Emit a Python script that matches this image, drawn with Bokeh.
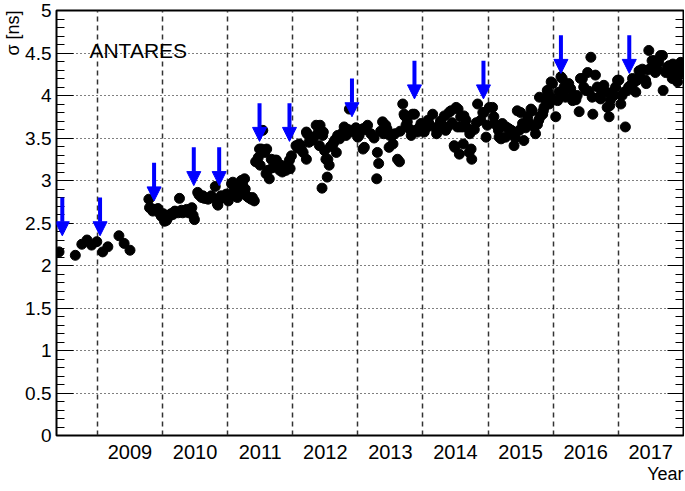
from bokeh.plotting import figure
from bokeh.models import (Range1d, FixedTicker, LinearAxis, Label, Arrow, Title,
                          NormalHead, ColumnDataSource)
from bokeh.embed import file_html
from bokeh.resources import INLINE

# ---------------- data ----------------
t_2008 = [2008.41, 2008.66, 2008.76, 2008.84, 2008.91, 2008.99, 2009.08, 2009.16, 2009.33, 2009.41, 2009.50]
s_2008 = [2.16, 2.12, 2.25, 2.30, 2.24, 2.28, 2.16, 2.22, 2.35, 2.26, 2.18]

t_2009 = [2009.79, 2009.80, 2009.83, 2009.85, 2009.88, 2009.93, 2009.96, 2009.98, 2010.01, 2010.03,
          2010.06, 2010.08, 2010.11, 2010.13, 2010.16, 2010.19, 2010.21, 2010.24, 2010.26, 2010.29,
          2010.31, 2010.34, 2010.37, 2010.40, 2010.42, 2010.45, 2010.47, 2010.49]
s_2009 = [2.78, 2.68, 2.67, 2.64, 2.66, 2.67, 2.61, 2.58, 2.61, 2.52,
          2.53, 2.56, 2.59, 2.61, 2.60, 2.64, 2.63, 2.62, 2.79, 2.65,
          2.62, 2.63, 2.66, 2.62, 2.65, 2.68, 2.59, 2.54]

t_2010 = [2010.54, 2010.56, 2010.60, 2010.62, 2010.64, 2010.67, 2010.70, 2010.73, 2010.75, 2010.81,
          2010.84, 2010.85, 2010.88, 2010.90, 2010.94, 2010.98, 2011.01, 2011.03, 2011.06, 2011.08,
          2011.10, 2011.13, 2011.15, 2011.18, 2011.21, 2011.23, 2011.26, 2011.27, 2011.29, 2011.32,
          2011.36, 2011.38, 2011.41]
s_2010 = [2.86, 2.83, 2.80, 2.82, 2.79, 2.79, 2.78, 2.80, 2.82, 2.93,
          2.73, 2.71, 2.79, 2.82, 2.80, 2.84, 2.76, 2.82, 2.96, 2.98,
          2.88, 2.94, 2.80, 2.86, 3.00, 2.95, 3.02, 2.90, 2.82, 2.80,
          2.78, 2.80, 2.76]

t_2011 = [2011.43, 2011.47, 2011.49, 2011.50, 2011.52, 2011.54, 2011.57, 2011.59, 2011.60, 2011.62,
          2011.64, 2011.67, 2011.69, 2011.72, 2011.75, 2011.78, 2011.80, 2011.82, 2011.84, 2011.87,
          2011.90, 2011.92, 2011.95, 2011.96, 2011.98]
s_2011 = [3.22, 3.27, 3.37, 3.18, 3.37, 3.59, 3.33, 3.08, 3.37, 3.12,
          3.02, 3.25, 3.15, 3.24, 3.24, 3.16, 3.12, 3.18, 3.10, 3.12,
          3.12, 3.18, 3.24, 3.14, 3.29]

t_2012 = [2012.05, 2012.08, 2012.10, 2012.13, 2012.16, 2012.21, 2012.21, 2012.22, 2012.25, 2012.28,
          2012.29, 2012.32, 2012.36, 2012.38, 2012.41, 2012.42, 2012.45, 2012.46, 2012.47, 2012.49,
          2012.51, 2012.53, 2012.54, 2012.56, 2012.58, 2012.62, 2012.63, 2012.65, 2012.67, 2012.69,
          2012.72, 2012.75, 2012.79, 2012.82, 2012.85, 2012.87, 2012.92, 2012.95, 2012.97, 2013.00]
s_2012 = [3.41, 3.38, 3.43, 3.38, 3.33, 3.25, 3.57, 3.55, 3.45, 3.51,
          3.47, 3.50, 3.65, 3.55, 3.41, 3.65, 2.91, 3.53, 3.57, 3.35,
          3.25, 3.04, 3.25, 3.18, 3.40, 3.43, 3.45, 3.48, 3.33, 3.53,
          3.49, 3.55, 3.63, 3.53, 3.60, 3.84, 3.57, 3.59, 3.62, 3.51]

t_2013 = [2013.02, 2013.08, 2013.08, 2013.10, 2013.11, 2013.15, 2013.20, 2013.25, 2013.29, 2013.30,
          2013.32, 2013.35, 2013.38, 2013.40, 2013.43, 2013.44, 2013.45, 2013.48, 2013.49, 2013.53,
          2013.54, 2013.57, 2013.61, 2013.64, 2013.65, 2013.69, 2013.71, 2013.72, 2013.74, 2013.76,
          2013.79, 2013.82, 2013.84, 2013.87, 2013.89, 2013.92, 2013.95, 2013.97, 2013.99]
s_2013 = [3.53, 3.37, 3.61, 3.39, 3.60, 3.65, 3.55, 3.50, 3.02, 3.33,
          3.20, 3.58, 3.69, 3.55, 3.65, 3.61, 3.60, 3.39, 3.53, 3.53,
          3.43, 3.55, 3.25, 3.22, 3.58, 3.90, 3.78, 3.76, 3.65, 3.69,
          3.61, 3.53, 3.78, 3.78, 3.59, 3.57, 3.63, 3.67, 3.65]

t_2014 = [2014.02, 2014.07, 2014.08, 2014.10, 2014.15, 2014.20, 2014.21, 2014.25, 2014.27, 2014.30,
          2014.33, 2014.35, 2014.38, 2014.40, 2014.43, 2014.45, 2014.48, 2014.49, 2014.51, 2014.53,
          2014.54, 2014.56, 2014.57, 2014.58, 2014.61, 2014.62, 2014.63, 2014.66, 2014.68, 2014.71,
          2014.72, 2014.74, 2014.75, 2014.79, 2014.82, 2014.84, 2014.89, 2014.92, 2014.94, 2014.97,
          2014.99]
s_2014 = [3.57, 3.63, 3.71, 3.66, 3.78, 3.61, 3.55, 3.65, 3.70, 3.65,
          3.76, 3.59, 3.63, 3.80, 3.82, 3.68, 3.41, 3.39, 3.86, 3.63,
          3.84, 3.31, 3.63, 3.75, 3.63, 3.43, 3.76, 3.71, 3.62, 3.33,
          3.55, 3.37, 3.25, 3.60, 3.68, 3.90, 3.71, 3.80, 3.80, 3.51,
          3.65]

t_2015 = [2015.02, 2015.07, 2015.09, 2015.10, 2015.15, 2015.16, 2015.17, 2015.20, 2015.22, 2015.27,
          2015.28, 2015.32, 2015.35, 2015.36, 2015.40, 2015.42, 2015.45, 2015.48, 2015.50, 2015.53,
          2015.55, 2015.58, 2015.61, 2015.63, 2015.66, 2015.68, 2015.71, 2015.73, 2015.76, 2015.78,
          2015.79, 2015.80, 2015.84, 2015.85, 2015.86, 2015.88, 2015.91, 2015.92, 2015.94, 2015.96,
          2015.97, 2015.99]
s_2015 = [3.86, 3.86, 3.75, 3.67, 3.63, 3.59, 3.51, 3.49, 3.67, 3.51,
          3.63, 3.61, 3.55, 3.59, 3.41, 3.50, 3.82, 3.59, 3.80, 3.67,
          3.47, 3.62, 3.75, 3.68, 3.84, 3.82, 3.63, 3.55, 3.66, 3.71,
          3.98, 3.75, 3.78, 3.82, 3.86, 3.95, 4.06, 4.04, 3.90, 3.98,
          4.16, 4.14]

t_2016 = [2016.04, 2016.07, 2016.09, 2016.12, 2016.14, 2016.15, 2016.17, 2016.19, 2016.24, 2016.27,
          2016.30, 2016.32, 2016.35, 2016.37, 2016.40, 2016.42, 2016.45, 2016.47, 2016.50, 2016.53,
          2016.55, 2016.58, 2016.60, 2016.61, 2016.65, 2016.68, 2016.70, 2016.73, 2016.75, 2016.78,
          2016.81, 2016.83, 2016.86, 2016.87, 2016.88, 2016.91, 2016.93, 2016.96, 2016.99]
s_2016 = [3.75, 3.94, 4.04, 4.22, 4.20, 4.04, 4.10, 3.98, 4.14, 4.08,
          3.94, 4.00, 3.95, 4.00, 3.81, 4.20, 4.20, 4.10, 4.06, 4.27,
          4.05, 4.45, 3.98, 3.78, 4.24, 4.10, 3.98, 3.96, 4.05, 4.12,
          4.04, 3.86, 3.75, 3.88, 3.95, 4.04, 4.00, 4.10, 4.18]

t_2017 = [2017.01, 2017.04, 2017.06, 2017.09, 2017.11, 2017.14, 2017.16, 2017.19, 2017.22, 2017.24,
          2017.27, 2017.29, 2017.32, 2017.34, 2017.37, 2017.42, 2017.43, 2017.45, 2017.47, 2017.50,
          2017.52, 2017.55, 2017.57, 2017.60, 2017.62, 2017.65, 2017.68, 2017.69, 2017.73, 2017.75,
          2017.78, 2017.80, 2017.83, 2017.84, 2017.88, 2017.89, 2017.91, 2017.93, 2017.96, 2017.98]
s_2017 = [4.18, 3.90, 4.00, 4.04, 3.63, 4.06, 4.10, 4.12, 4.20, 4.15,
          4.04, 4.18, 4.29, 4.22, 4.31, 4.18, 4.14, 4.30, 4.53, 4.32,
          4.41, 4.41, 4.27, 4.30, 4.39, 4.47, 4.47, 4.06, 4.27, 4.33,
          4.35, 4.28, 4.20, 4.37, 4.31, 4.20, 4.16, 4.25, 4.39, 4.30]

# blue arrows (time and sigma value at the arrow tip)
arrow_t = [2008.46, 2009.04, 2009.87, 2010.48, 2010.87, 2011.49, 2011.95, 2012.91, 2013.87, 2014.93, 2016.12, 2017.17]
arrow_tip = [2.35, 2.35, 2.76, 2.94, 2.94, 3.46, 3.46, 3.75, 3.96, 3.96, 4.26, 4.26]

# axes
year_starts = [2009, 2010, 2011, 2012, 2013, 2014, 2015, 2016, 2017]
year_labels = ["2009", "2010", "2011", "2012", "2013", "2014", "2015", "2016", "2017"]
y_ticks = [0, 0.5, 1, 1.5, 2, 2.5, 3, 3.5, 4, 4.5, 5]
y_tick_labels = ["0", "0.5", "1", "1.5", "2", "2.5", "3", "3.5", "4", "4.5", "5"]

# ---------------- figure ----------------
FONT = "Liberation Sans"
ARROW_LEN = 0.45

t_all = t_2008 + t_2009 + t_2010 + t_2011 + t_2012 + t_2013 + t_2014 + t_2015 + t_2016 + t_2017
s_all = s_2008 + s_2009 + s_2010 + s_2011 + s_2012 + s_2013 + s_2014 + s_2015 + s_2016 + s_2017

p = figure(width=684, height=490, output_backend="svg", toolbar_location=None,
           x_range=Range1d(2008.371, 2018.003), y_range=Range1d(0, 5),
           min_border_left=55, min_border_right=1, min_border_top=10, min_border_bottom=55)
p.background_fill_color = "white"
p.border_fill_color = "white"
p.outline_line_color = "black"
p.outline_line_width = 2

# x axis: labels in the middle of each year, no ticks
year_mid = [y + 0.5 for y in year_starts]
xa = p.xaxis[0]
xa.ticker = FixedTicker(ticks=year_mid, minor_ticks=[])
xa.major_label_overrides = {m: l for m, l in zip(year_mid, year_labels)}
xa.major_tick_in = 0
xa.major_tick_out = 0
xa.minor_tick_in = 0
xa.minor_tick_out = 0
xa.axis_line_color = None
xa.major_label_standoff = 9
xa.major_label_text_font = FONT
xa.major_label_text_font_size = "20px"
xa.major_label_text_color = "black"

# y axis
y_minor = [round(0.1 * i, 2) for i in range(51)]
ya = p.yaxis[0]
ya.ticker = FixedTicker(ticks=y_ticks, minor_ticks=y_minor)
ya.major_label_overrides = {v: l for v, l in zip(y_ticks, y_tick_labels)}
ya.major_tick_in = 17
ya.major_tick_out = 0
ya.minor_tick_in = 8
ya.minor_tick_out = 0
ya.major_tick_line_color = "black"
ya.minor_tick_line_color = "black"
ya.axis_line_color = None
ya.major_label_standoff = 5
ya.major_label_text_font = FONT
ya.major_label_text_font_size = "19px"
ya.major_label_text_color = "black"

# right axis: ticks only, no labels
ra = LinearAxis(ticker=FixedTicker(ticks=y_ticks, minor_ticks=y_minor))
ra.major_label_overrides = {v: "" for v in y_ticks}
ra.major_tick_in = 16
ra.major_tick_out = 0
ra.minor_tick_in = 8
ra.minor_tick_out = 0
ra.major_tick_line_color = "black"
ra.minor_tick_line_color = "black"
ra.axis_line_color = None
ra.major_label_standoff = 0
p.add_layout(ra, "right")

# axis titles (placed at the ends of the axes, ROOT style)
p.add_layout(Title(text="σ [ns]", align="right", text_font=FONT, text_font_size="18px",
                   text_font_style="normal", text_color="black", standoff=0, offset=0), "left")
p.add_layout(Title(text="Year", align="right", text_font=FONT, text_font_size="18px",
                   text_font_style="normal", text_color="black", standoff=0, offset=0), "below")

# grids
p.xgrid.ticker = FixedTicker(ticks=year_starts)
p.xgrid.grid_line_color = "#333333"
p.xgrid.grid_line_dash = "5 4"
p.xgrid.grid_line_width = 1.5
p.ygrid.ticker = FixedTicker(ticks=y_ticks[1:-1])
p.ygrid.grid_line_color = "black"
p.ygrid.grid_line_dash = "1 3"
p.ygrid.grid_line_width = 1

# data points
src = ColumnDataSource(dict(t=t_all, s=s_all))
p.scatter(x="t", y="s", source=src, size=10, marker="circle",
          fill_color="black", line_color="black")

# arrows
asrc = ColumnDataSource(dict(x=arrow_t, y0=[v + ARROW_LEN for v in arrow_tip], y1=arrow_tip))
p.add_layout(Arrow(end=NormalHead(size=14, fill_color="blue", line_color="blue", line_width=1),
                   x_start="x", y_start="y0", x_end="x", y_end="y1", source=asrc,
                   line_color="blue", line_width=4))

# inset text
p.add_layout(Label(x=2008.877, y=4.53, text="ANTARES", text_font=FONT,
                   text_font_size="21px", text_color="black", text_baseline="alphabetic"))

open("out.html", "w").write(file_html(p, INLINE))
